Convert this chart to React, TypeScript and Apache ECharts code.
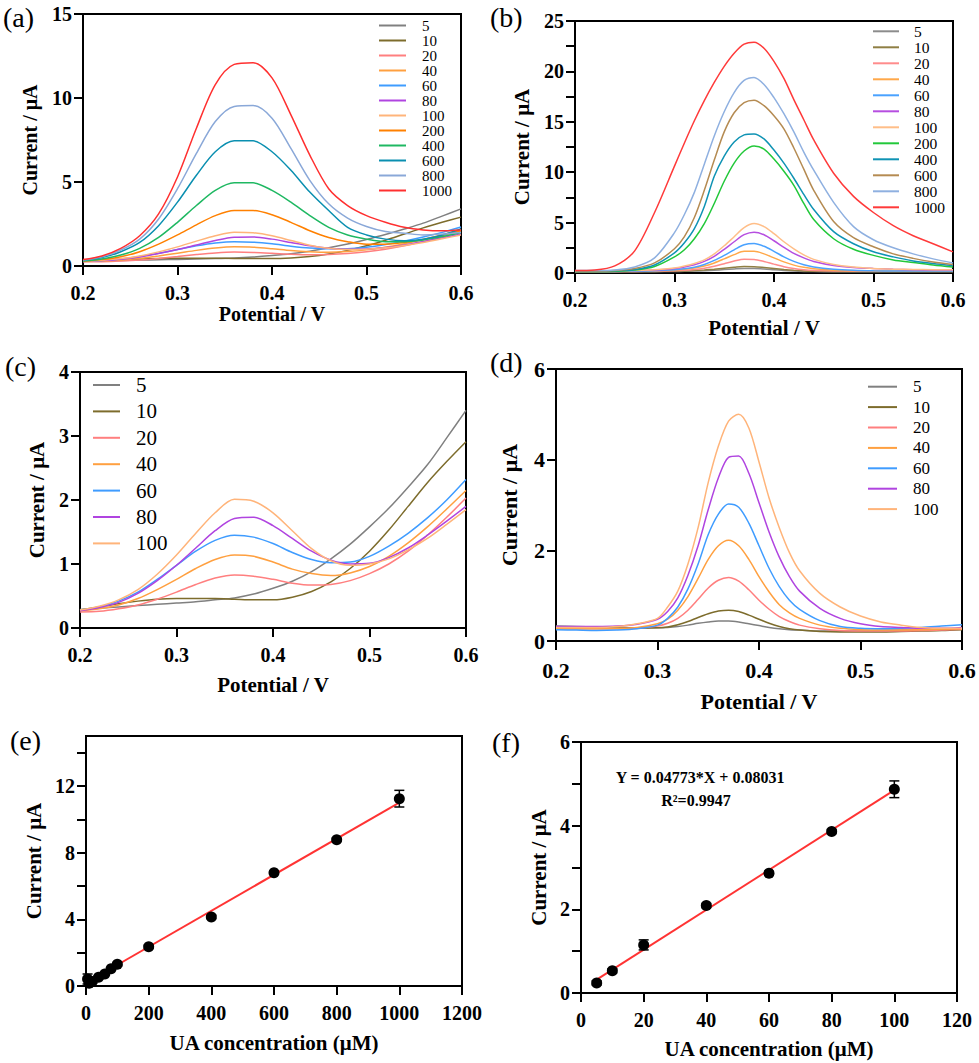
import React, { useEffect, useRef } from "react";
import * as echarts from "echarts";

const FONT = '"Liberation Serif", "Times New Roman", serif';

// ---------- x values (potential, V) ----------
const POTENTIAL = [0.2, 0.22, 0.24, 0.26, 0.28, 0.3, 0.32, 0.34, 0.36, 0.38, 0.4, 0.42, 0.44, 0.46, 0.48, 0.5, 0.52, 0.54, 0.56, 0.58, 0.6];
const POTENTIAL_B = [0.2, 0.22, 0.24, 0.26, 0.28, 0.3, 0.31, 0.32, 0.33, 0.34, 0.35, 0.36, 0.37, 0.38, 0.39, 0.4, 0.41, 0.42, 0.43, 0.44, 0.46, 0.48, 0.5, 0.52, 0.54, 0.56, 0.58];
const POTENTIAL_D = [0.2, 0.22, 0.24, 0.26, 0.28, 0.3, 0.31, 0.32, 0.33, 0.34, 0.35, 0.36, 0.37, 0.38, 0.39, 0.4, 0.41, 0.42, 0.43, 0.44, 0.46, 0.48, 0.5, 0.52, 0.54, 0.56, 0.58, 0.6];

// ---------- concentrations (legend labels) ----------
const CONC_LOW = ["5", "10", "20", "40", "60", "80", "100"];
const CONC_ALL = ["5", "10", "20", "40", "60", "80", "100", "200", "400", "600", "800", "1000"];

// ---------- panel (a) / (c) low-concentration curves (µA) ----------
const L5 = [0.29, 0.31, 0.33, 0.35, 0.37, 0.39, 0.41, 0.44, 0.47, 0.53, 0.62, 0.73, 0.88, 1.08, 1.31, 1.58, 1.87, 2.2, 2.55, 2.97, 3.4];
const L10 = [0.28, 0.33, 0.38, 0.42, 0.45, 0.46, 0.46, 0.46, 0.45, 0.44, 0.44, 0.48, 0.57, 0.72, 0.93, 1.2, 1.53, 1.9, 2.27, 2.6, 2.91];
const L20 = [0.25, 0.26, 0.3, 0.36, 0.45, 0.56, 0.68, 0.78, 0.83, 0.81, 0.76, 0.7, 0.67, 0.68, 0.74, 0.85, 1.0, 1.2, 1.45, 1.73, 2.03];
const L40 = [0.27, 0.3, 0.36, 0.46, 0.6, 0.76, 0.93, 1.07, 1.14, 1.12, 1.03, 0.92, 0.85, 0.82, 0.86, 0.96, 1.12, 1.33, 1.58, 1.86, 2.15];
const L60 = [0.28, 0.33, 0.42, 0.56, 0.76, 0.98, 1.2, 1.37, 1.45, 1.42, 1.32, 1.18, 1.07, 1.02, 1.03, 1.12, 1.28, 1.48, 1.72, 2.0, 2.32];
const L80 = [0.27, 0.32, 0.4, 0.54, 0.74, 0.98, 1.25, 1.52, 1.71, 1.73, 1.6, 1.4, 1.2, 1.06, 1.0, 1.01, 1.1, 1.25, 1.45, 1.67, 1.9];
const L100 = [0.28, 0.34, 0.44, 0.6, 0.84, 1.14, 1.48, 1.8, 2.01, 1.98, 1.8, 1.52, 1.24, 1.05, 0.98, 1.0, 1.08, 1.22, 1.4, 1.62, 1.85];
// ---------- panel (a) high-concentration curves ----------
const A200 = [0.28, 0.38, 0.55, 0.85, 1.3, 1.85, 2.45, 3.0, 3.3, 3.3, 3.05, 2.6, 2.1, 1.7, 1.45, 1.3, 1.3, 1.4, 1.58, 1.82, 2.1];
const A400 = [0.3, 0.42, 0.65, 1.05, 1.7, 2.6, 3.6, 4.5, 4.95, 4.95, 4.5, 3.8, 3.0, 2.3, 1.85, 1.6, 1.45, 1.45, 1.55, 1.75, 2.0];
const A600 = [0.33, 0.5, 0.85, 1.4, 2.4, 3.8, 5.4, 6.8, 7.45, 7.45, 6.8, 5.7, 4.4, 3.3, 2.3, 1.85, 1.6, 1.5, 1.6, 1.85, 2.2];
const A800 = [0.35, 0.55, 0.95, 1.6, 2.8, 4.6, 6.7, 8.6, 9.5, 9.55, 8.8, 7.0, 5.1, 3.7, 2.85, 2.35, 2.05, 1.95, 1.85, 1.9, 2.0];
const A1000 = [0.38, 0.6, 1.05, 1.8, 3.1, 5.3, 8.2, 10.8, 12.0, 12.1, 11.2, 9.0, 6.6, 4.6, 3.6, 3.0, 2.6, 2.3, 2.15, 2.1, 2.15];

// ---------- panel (b) curves ----------
const B5 = [0.12, 0.12, 0.12, 0.12, 0.13, 0.15, 0.17, 0.19, 0.23, 0.28, 0.34, 0.4, 0.44, 0.44, 0.4, 0.33, 0.26, 0.2, 0.16, 0.14, 0.13, 0.12, 0.12, 0.12, 0.12, 0.12, 0.12];
const B10 = [0.15, 0.15, 0.15, 0.15, 0.16, 0.18, 0.2, 0.24, 0.3, 0.38, 0.48, 0.57, 0.64, 0.63, 0.55, 0.45, 0.35, 0.27, 0.21, 0.18, 0.16, 0.15, 0.15, 0.15, 0.15, 0.15, 0.15];
const B20 = [0.15, 0.15, 0.15, 0.16, 0.18, 0.22, 0.27, 0.35, 0.48, 0.67, 0.92, 1.18, 1.37, 1.35, 1.15, 0.88, 0.63, 0.45, 0.33, 0.26, 0.2, 0.18, 0.17, 0.17, 0.17, 0.17, 0.17];
const B40 = [0.15, 0.15, 0.16, 0.18, 0.22, 0.3, 0.38, 0.5, 0.7, 1.0, 1.4, 1.82, 2.15, 2.15, 1.9, 1.5, 1.1, 0.78, 0.56, 0.42, 0.28, 0.22, 0.2, 0.18, 0.18, 0.18, 0.18];
const B60 = [0.15, 0.15, 0.16, 0.18, 0.22, 0.32, 0.42, 0.58, 0.85, 1.25, 1.75, 2.3, 2.8, 2.92, 2.65, 2.15, 1.6, 1.15, 0.82, 0.6, 0.38, 0.27, 0.22, 0.2, 0.2, 0.2, 0.2];
const B80 = [0.2, 0.2, 0.22, 0.25, 0.3, 0.45, 0.6, 0.82, 1.15, 1.65, 2.35, 3.1, 3.8, 4.05, 3.8, 3.2, 2.55, 1.95, 1.5, 1.15, 0.75, 0.55, 0.45, 0.38, 0.33, 0.3, 0.3];
const B100 = [0.2, 0.2, 0.22, 0.25, 0.32, 0.5, 0.7, 0.95, 1.3, 1.9, 2.7, 3.6, 4.5, 4.9, 4.6, 3.9, 3.1, 2.4, 1.8, 1.35, 0.85, 0.6, 0.45, 0.38, 0.35, 0.33, 0.33];
const B200 = [0.15, 0.15, 0.18, 0.3, 0.65, 1.6, 2.3, 3.4, 4.9, 6.9, 9.1, 10.9, 12.1, 12.6, 12.3, 11.3, 10.1, 8.7, 6.9, 5.3, 3.4, 2.35, 1.75, 1.3, 1.05, 0.8, 0.6];
const B400 = [0.2, 0.2, 0.22, 0.35, 0.8, 2.0, 3.0, 4.4, 6.6, 9.6, 11.6, 13.0, 13.7, 13.8, 13.3, 12.2, 10.9, 9.4, 7.8, 6.3, 4.1, 2.9, 2.1, 1.6, 1.2, 0.95, 0.75];
const B600 = [0.2, 0.2, 0.25, 0.45, 1.0, 2.4, 3.6, 5.5, 8.2, 11.2, 14.0, 15.9, 16.9, 17.15, 16.6, 15.6, 14.3, 12.4, 10.3, 8.2, 5.1, 3.5, 2.6, 1.9, 1.45, 1.1, 0.85];
const B800 = [0.25, 0.25, 0.3, 0.6, 1.5, 4.0, 5.8, 8.0, 10.8, 13.6, 16.0, 17.9, 19.1, 19.4, 18.7, 17.4, 15.8, 14.0, 12.0, 10.2, 7.0, 4.6, 3.3, 2.5, 1.9, 1.4, 1.0];
const B1000 = [0.25, 0.3, 0.7, 2.2, 6.0, 10.6, 12.9, 15.1, 17.1, 18.9, 20.5, 21.8, 22.7, 22.9, 22.3, 21.0, 19.3, 17.2, 15.2, 13.2, 9.9, 7.6, 6.0, 4.7, 3.7, 2.9, 2.1];

// ---------- panel (d) curves ----------
const D5 = [0.33, 0.32, 0.31, 0.3, 0.29, 0.29, 0.3, 0.32, 0.35, 0.39, 0.42, 0.44, 0.44, 0.42, 0.38, 0.34, 0.3, 0.27, 0.25, 0.24, 0.22, 0.22, 0.22, 0.23, 0.24, 0.25, 0.26, 0.27];
const D10 = [0.28, 0.28, 0.28, 0.28, 0.28, 0.29, 0.31, 0.36, 0.43, 0.52, 0.6, 0.66, 0.68, 0.65, 0.57, 0.48, 0.39, 0.32, 0.27, 0.24, 0.21, 0.2, 0.2, 0.2, 0.21, 0.22, 0.23, 0.25];
const D20 = [0.27, 0.27, 0.27, 0.27, 0.28, 0.33, 0.39, 0.5, 0.68, 0.92, 1.17, 1.34, 1.4, 1.32, 1.13, 0.9, 0.7, 0.54, 0.43, 0.35, 0.27, 0.23, 0.22, 0.22, 0.22, 0.23, 0.24, 0.26];
const D40 = [0.27, 0.27, 0.27, 0.28, 0.3, 0.38, 0.48, 0.68, 0.98, 1.38, 1.8, 2.1, 2.22, 2.1, 1.8, 1.42, 1.08, 0.8, 0.62, 0.5, 0.35, 0.28, 0.25, 0.24, 0.24, 0.25, 0.26, 0.27];
const D60 = [0.25, 0.24, 0.23, 0.24, 0.27, 0.35, 0.5, 0.75, 1.15, 1.7, 2.35, 2.8, 3.02, 2.95, 2.6, 2.1, 1.6, 1.2, 0.9, 0.7, 0.45, 0.32, 0.28, 0.27, 0.28, 0.3, 0.33, 0.36];
const D80 = [0.32, 0.32, 0.32, 0.33, 0.37, 0.48, 0.65, 0.95, 1.45, 2.1, 2.9, 3.6, 4.05, 4.08, 3.7, 3.05, 2.4, 1.85, 1.42, 1.1, 0.72, 0.5, 0.38, 0.32, 0.3, 0.28, 0.28, 0.3];
const D100 = [0.3, 0.3, 0.3, 0.32, 0.38, 0.5, 0.75, 1.1, 1.7, 2.5, 3.5, 4.3, 4.85, 5.0, 4.7, 3.95, 3.15, 2.5, 1.95, 1.55, 1.05, 0.75, 0.55, 0.42, 0.35, 0.3, 0.28, 0.28];

// ---------- panel (e) calibration ----------
const E_CONC = [5, 10, 20, 40, 60, 80, 100, 200, 400, 600, 800, 1000];
const E_CURRENT = [0.42, 0.16, 0.27, 0.52, 0.72, 1.03, 1.31, 2.35, 4.14, 6.8, 8.77, 11.24];
const E_ERROR = [0.3, 0.1, 0.1, 0.1, 0.05, 0.05, 0.1, 0.1, 0.1, 0.1, 0.1, 0.5];
const E_FIT = [[5, 0.24], [1000, 11.0]];

// ---------- panel (f) calibration ----------
const F_CONC = [5, 10, 20, 40, 60, 80, 100];
const F_CURRENT = [0.24, 0.53, 1.15, 2.09, 2.86, 3.86, 4.87];
const F_ERROR = [0.05, 0.05, 0.12, 0.05, 0.05, 0.05, 0.2];
const F_FIT = [[5, 0.32], [100, 4.85]];

// ---------- tick values ----------
const X_TICKS_POT = [0.2, 0.3, 0.4, 0.5, 0.6];
const X_TICKS_POT_B = [0.2, 0.3, 0.4, 0.5, 0.58];
const Y_TICKS_A = [0, 5, 10, 15];
const Y_TICKS_B = [0, 2.5, 5, 7.5, 10, 12.5, 15, 17.5, 20, 22.5, 25];
const Y_LABELS_B = [0, 5, 10, 15, 20, 25];
const Y_TICKS_C = [0, 1, 2, 3, 4];
const Y_TICKS_D = [0, 2, 4, 6];
const X_TICKS_E = [0, 200, 400, 600, 800, 1000, 1200];
const Y_TICKS_E = [0, 2, 4, 6, 8, 10, 12, 14];
const Y_LABELS_E = [0, 4, 8, 12];
const X_TICKS_F = [0, 20, 40, 60, 80, 100, 120];
const Y_TICKS_F = [0, 1, 2, 3, 4, 5, 6];
const Y_LABELS_F = [0, 2, 4, 6];

// ---------- colours ----------
const COLORS_A = ["#808080", "#7d6c2c", "#ff7f7f", "#ffa040", "#3f9cff", "#b044e0", "#ffb47a", "#ff8000", "#1fb862", "#0a8fb0", "#8aa8d8", "#ff3030"];
const COLORS_B = ["#8c8c8c", "#8f7f44", "#ff8c8c", "#ffa84a", "#4aa2ff", "#b64ee0", "#ffbe88", "#22c83a", "#0f93b4", "#b58b52", "#8fb0e0", "#ff3a3a"];

const LOW_DATA = [L5, L10, L20, L40, L60, L80, L100];
const A_DATA = [L5, L10, L20, L40, L60, L80, L100, A200, A400, A600, A800, A1000];
const B_DATA = [B5, B10, B20, B40, B60, B80, B100, B200, B400, B600, B800, B1000];
const D_DATA = [D5, D10, D20, D40, D60, D80, D100];

function curves(prefix: string, axis: number, names: string[], data: number[][], xs: number[], colors: string[]) {
  return names.map((n, i) => ({
    type: "line",
    name: prefix + ":" + n,
    xAxisIndex: axis,
    yAxisIndex: axis,
    data: xs.map((x, j) => [x, data[i][j]]),
    showSymbol: false,
    symbol: "none",
    smooth: 0.3,
    lineStyle: { width: 1.5, color: colors[i] },
    itemStyle: { color: colors[i] },
    z: 2 + i * 0.01,
  }));
}

function xAxisSpec(grid: number, min: number, max: number, ticks: number[], labels: number[], fmt: (v: number) => string, fs: number, name: string, nameGap: number, nameSize: number, margin: number) {
  return {
    type: "value",
    gridIndex: grid,
    min,
    max,
    name,
    nameLocation: "middle",
    nameGap,
    nameTextStyle: { fontFamily: FONT, fontWeight: "bold", fontSize: nameSize, color: "#000" },
    axisLine: { show: true, onZero: false, lineStyle: { color: "#000", width: 2 } },
    axisTick: { show: true, inside: false, length: 9, lineStyle: { color: "#000", width: 2 }, customValues: ticks },
    axisLabel: { customValues: labels, formatter: fmt, fontFamily: FONT, fontWeight: "bold", fontSize: fs, color: "#000", margin },
    splitLine: { show: false },
  };
}

function yAxisSpec(grid: number, max: number, ticks: number[], labels: number[], fs: number, nameGap: number, nameSize: number) {
  return {
    type: "value",
    gridIndex: grid,
    min: 0,
    max,
    name: "Current / μA",
    nameLocation: "middle",
    nameGap,
    nameTextStyle: { fontFamily: FONT, fontWeight: "bold", fontSize: nameSize, color: "#000" },
    axisLine: { show: true, onZero: false, lineStyle: { color: "#000", width: 2 } },
    axisTick: { show: true, inside: false, length: 9, lineStyle: { color: "#000", width: 2 }, customValues: ticks },
    axisLabel: { customValues: labels, formatter: (v: number) => String(v), fontFamily: FONT, fontWeight: "bold", fontSize: fs, color: "#000", margin: 11 },
    splitLine: { show: false },
  };
}

function legendSpec(prefix: string, names: string[], left: number, top: number, spacing: number, itemWidth: number, fontSize: number, pad: number) {
  return {
    show: true,
    orient: "vertical",
    left,
    top,
    padding: 0,
    itemGap: 0,
    icon: "rect",
    itemWidth,
    itemHeight: 2,
    selectedMode: false,
    data: names.map((n) => prefix + ":" + n),
    formatter: (n: string) => n.split(":")[1],
    textStyle: { fontFamily: FONT, fontSize, color: "#000", lineHeight: spacing, padding: [0, 0, 0, pad] },
  };
}

function errorBars(axis: number, xs: number[], ys: number[], errs: number[]) {
  return {
    type: "custom",
    xAxisIndex: axis,
    yAxisIndex: axis,
    encode: { x: 0, y: 1 },
    data: xs.map((x, i) => [x, ys[i], errs[i]]),
    z: 3,
    renderItem: (params: any, api: any) => {
      const x = api.value(0);
      const y = api.value(1);
      const e = api.value(2);
      const t = api.coord([x, y + e]);
      const b = api.coord([x, y - e]);
      const w = 5;
      const st = { stroke: "#000", lineWidth: 1.5 };
      return {
        type: "group",
        children: [
          { type: "line", shape: { x1: t[0], y1: t[1], x2: b[0], y2: b[1] }, style: st },
          { type: "line", shape: { x1: t[0] - w, y1: t[1], x2: t[0] + w, y2: t[1] }, style: st },
          { type: "line", shape: { x1: b[0] - w, y1: b[1], x2: b[0] + w, y2: b[1] }, style: st },
        ],
      };
    },
  };
}

export default function App() {
  const ref = useRef<HTMLDivElement>(null);
  useEffect(() => {
    if (!ref.current) return;
    const chart = echarts.init(ref.current, undefined, { renderer: "svg" });
    const pot = (v: number) => v.toFixed(1);
    const int = (v: number) => String(Math.round(v));
    const gridBase = { show: true, borderColor: "#000", borderWidth: 2, backgroundColor: "transparent", containLabel: false, outerBoundsMode: "none" };
    const option: any = {
      animation: false,
      backgroundColor: "#fff",
      grid: [
        { ...gridBase, left: 83, top: 14, width: 378, height: 252 },
        { ...gridBase, left: 575, top: 21, width: 378, height: 252 },
        { ...gridBase, left: 80, top: 372, width: 386, height: 256 },
        { ...gridBase, left: 556, top: 369, width: 406, height: 272 },
        { ...gridBase, left: 86, top: 736, width: 376, height: 250 },
        { ...gridBase, left: 581, top: 742, width: 376, height: 251 },
      ],
      xAxis: [
        xAxisSpec(0, 0.2, 0.6, X_TICKS_POT, X_TICKS_POT, pot, 20, "Potential / V", 38, 20, 17),
        xAxisSpec(1, 0.2, 0.58, X_TICKS_POT_B, X_TICKS_POT_B, pot, 20, "Potential / V", 44, 21, 17),
        xAxisSpec(2, 0.2, 0.6, X_TICKS_POT, X_TICKS_POT, pot, 20, "Potential / V", 46, 21, 17),
        xAxisSpec(3, 0.2, 0.6, X_TICKS_POT, X_TICKS_POT, pot, 22, "Potential / V", 49, 22, 18),
        xAxisSpec(4, 0, 1200, X_TICKS_E, X_TICKS_E, int, 20, "UA concentration (μM)", 46, 21, 17),
        xAxisSpec(5, 0, 120, X_TICKS_F, X_TICKS_F, int, 20, "UA concentration (μM)", 45, 21, 17),
      ],
      yAxis: [
        yAxisSpec(0, 15, Y_TICKS_A, Y_TICKS_A, 20, 43, 20),
        yAxisSpec(1, 25, Y_TICKS_B, Y_LABELS_B, 20, 43, 21),
        yAxisSpec(2, 4, Y_TICKS_C, Y_TICKS_C, 20, 33, 21),
        yAxisSpec(3, 6, Y_TICKS_D, Y_TICKS_D, 22, 36, 22),
        yAxisSpec(4, 15, Y_TICKS_E, Y_LABELS_E, 20, 42, 21),
        yAxisSpec(5, 6, Y_TICKS_F, Y_LABELS_F, 20, 32, 21),
      ],
      legend: [
        legendSpec("a", CONC_ALL, 379, 18, 14.5, 27, 15, 11),
        legendSpec("b", CONC_ALL, 873, 23.3, 15.5, 26, 15.5, 10),
        legendSpec("c", CONC_LOW, 93, 371.8, 26.4, 27, 21, 11),
        legendSpec("d", CONC_LOW, 868, 376.5, 20.4, 29, 17, 11),
      ],
      series: [
        ...curves("a", 0, CONC_ALL, A_DATA, POTENTIAL, COLORS_A),
        ...curves("b", 1, CONC_ALL, B_DATA, POTENTIAL_B, COLORS_B),
        ...curves("c", 2, CONC_LOW, LOW_DATA, POTENTIAL, COLORS_A),
        ...curves("d", 3, CONC_LOW, D_DATA, POTENTIAL_D, COLORS_A),
        {
          type: "line", xAxisIndex: 4, yAxisIndex: 4, data: E_FIT, symbol: "none",
          lineStyle: { color: "#ff3333", width: 2 }, z: 2,
        },
        errorBars(4, E_CONC, E_CURRENT, E_ERROR),
        {
          type: "scatter", xAxisIndex: 4, yAxisIndex: 4, symbolSize: 11,
          data: E_CONC.map((x, i) => [x, E_CURRENT[i]]), itemStyle: { color: "#000", opacity: 1 }, z: 4,
        },
        {
          type: "line", xAxisIndex: 5, yAxisIndex: 5, data: F_FIT, symbol: "none",
          lineStyle: { color: "#ff3333", width: 2 }, z: 2,
        },
        errorBars(5, F_CONC, F_CURRENT, F_ERROR),
        {
          type: "scatter", xAxisIndex: 5, yAxisIndex: 5, symbolSize: 11,
          data: F_CONC.map((x, i) => [x, F_CURRENT[i]]), itemStyle: { color: "#000", opacity: 1 }, z: 4,
        },
      ],
      graphic: [
        { type: "text", x: 3, y: 17, style: { text: "(a)", font: `28px ${FONT}`, fill: "#000", align: "left", verticalAlign: "middle" } },
        { type: "text", x: 490, y: 17, style: { text: "(b)", font: `28px ${FONT}`, fill: "#000", align: "left", verticalAlign: "middle" } },
        { type: "text", x: 5, y: 366, style: { text: "(c)", font: `28px ${FONT}`, fill: "#000", align: "left", verticalAlign: "middle" } },
        { type: "text", x: 490, y: 362, style: { text: "(d)", font: `28px ${FONT}`, fill: "#000", align: "left", verticalAlign: "middle" } },
        { type: "text", x: 10, y: 740, style: { text: "(e)", font: `28px ${FONT}`, fill: "#000", align: "left", verticalAlign: "middle" } },
        { type: "text", x: 492, y: 742, style: { text: "(f)", font: `28px ${FONT}`, fill: "#000", align: "left", verticalAlign: "middle" } },
        { type: "text", x: 700, y: 777, style: { text: "Y = 0.04773*X + 0.08031", font: `bold 16px ${FONT}`, fill: "#000", align: "center", verticalAlign: "middle" } },
        { type: "text", x: 696, y: 800, style: { text: "R²=0.9947", font: `bold 16px ${FONT}`, fill: "#000", align: "center", verticalAlign: "middle" } },
      ],
    };
    chart.setOption(option);
    return () => chart.dispose();
  }, []);
  return <div ref={ref} style={{ position: "absolute", left: 0, top: 0, width: 979, height: 1063 }} />;
}
